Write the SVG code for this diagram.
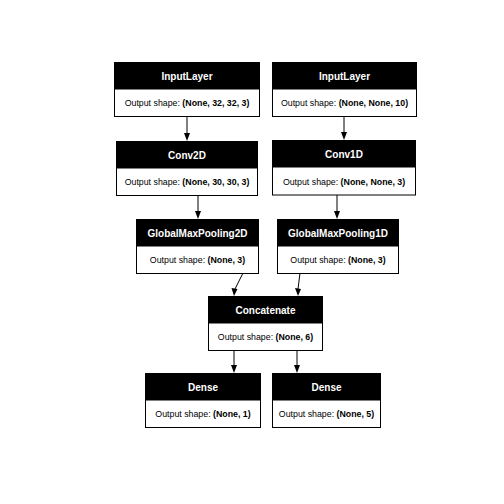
<svg xmlns="http://www.w3.org/2000/svg" width="504" height="504" viewBox="0 0 504 504">
<style>
.box{fill:#fff;stroke:#000;stroke-width:1}
.hdr{fill:#000}
.t{font-family:"Liberation Sans",Arial,sans-serif;font-size:10px;font-weight:bold;fill:#fff;text-anchor:middle}
.s{font-family:"Liberation Sans",Arial,sans-serif;font-size:8.8px;fill:#000;text-anchor:middle}
.s tspan{font-weight:bold}
.e{stroke:#000;stroke-width:1;fill:none}
.ah{fill:#000}
</style>
<rect width="504" height="504" fill="#fff"/>
<g id="connectors">
<line class="e" x1="187" y1="116" x2="187" y2="134"/><polygon class="ah" points="184,133 190,133 187,141"/>
<line class="e" x1="344" y1="116" x2="344" y2="133"/><polygon class="ah" points="341,132 347,132 344,140"/>
<line class="e" x1="198" y1="195" x2="198" y2="212"/><polygon class="ah" points="195,211 201,211 198,219"/>
<line class="e" x1="337" y1="195" x2="337" y2="212"/><polygon class="ah" points="334,211 340,211 337,219"/>
<line class="e" x1="243" y1="273" x2="235" y2="289"/><polygon class="ah" points="231.5,288 237.5,289 234,296"/>
<line class="e" x1="300" y1="273" x2="298" y2="289"/><polygon class="ah" points="295,288 301,289 298,296"/>
<line class="e" x1="234" y1="350" x2="234" y2="366"/><polygon class="ah" points="231,365 237,365 234,373"/>
<line class="e" x1="297" y1="350" x2="297" y2="366"/><polygon class="ah" points="294,365 300,365 297,373"/>
</g>
<g id="input1">
<rect class="box" x="114.5" y="62.5" width="145" height="54"/><rect class="hdr" x="114.5" y="62.5" width="145" height="27"/>
<text class="t" x="187" y="80">InputLayer</text>
<text class="s" x="187" y="106">Output shape: <tspan>(None, 32, 32, 3)</tspan></text>
</g>
<g id="input2">
<rect class="box" x="272.5" y="62.5" width="144" height="54"/><rect class="hdr" x="272.5" y="62.5" width="144" height="27"/>
<text class="t" x="344.5" y="80">InputLayer</text>
<text class="s" x="344.5" y="106">Output shape: <tspan>(None, None, 10)</tspan></text>
</g>
<g id="conv2d">
<rect class="box" x="116.5" y="141.5" width="141" height="54"/><rect class="hdr" x="116.5" y="141.5" width="141" height="27"/>
<text class="t" x="187" y="159">Conv2D</text>
<text class="s" x="187" y="185">Output shape: <tspan>(None, 30, 30, 3)</tspan></text>
</g>
<g id="conv1d">
<rect class="box" x="272.5" y="140.5" width="143" height="54.5"/><rect class="hdr" x="272.5" y="140.5" width="143" height="27"/>
<text class="t" x="344" y="158">Conv1D</text>
<text class="s" x="344" y="184.5">Output shape: <tspan>(None, None, 3)</tspan></text>
</g>
<g id="gmp2d">
<rect class="box" x="136.5" y="219.5" width="122" height="54"/><rect class="hdr" x="136.5" y="219.5" width="122" height="27"/>
<text class="t" x="197.5" y="237">GlobalMaxPooling2D</text>
<text class="s" x="197.5" y="263">Output shape: <tspan>(None, 3)</tspan></text>
</g>
<g id="gmp1d">
<rect class="box" x="277.5" y="219.5" width="121" height="54"/><rect class="hdr" x="277.5" y="219.5" width="121" height="27"/>
<text class="t" x="338" y="237">GlobalMaxPooling1D</text>
<text class="s" x="338" y="263">Output shape: <tspan>(None, 3)</tspan></text>
</g>
<g id="concatenate">
<rect class="box" x="208.5" y="296.5" width="114" height="54"/><rect class="hdr" x="208.5" y="296.5" width="114" height="27"/>
<text class="t" x="265.5" y="314">Concatenate</text>
<text class="s" x="265.5" y="340">Output shape: <tspan>(None, 6)</tspan></text>
</g>
<g id="dense1">
<rect class="box" x="145.5" y="373.5" width="115" height="54"/><rect class="hdr" x="145.5" y="373.5" width="115" height="27"/>
<text class="t" x="203" y="391">Dense</text>
<text class="s" x="203" y="417">Output shape: <tspan>(None, 1)</tspan></text>
</g>
<g id="dense2">
<rect class="box" x="272.5" y="373.5" width="108" height="54"/><rect class="hdr" x="272.5" y="373.5" width="108" height="27"/>
<text class="t" x="326.5" y="391">Dense</text>
<text class="s" x="326.5" y="417">Output shape: <tspan>(None, 5)</tspan></text>
</g>
</svg>
